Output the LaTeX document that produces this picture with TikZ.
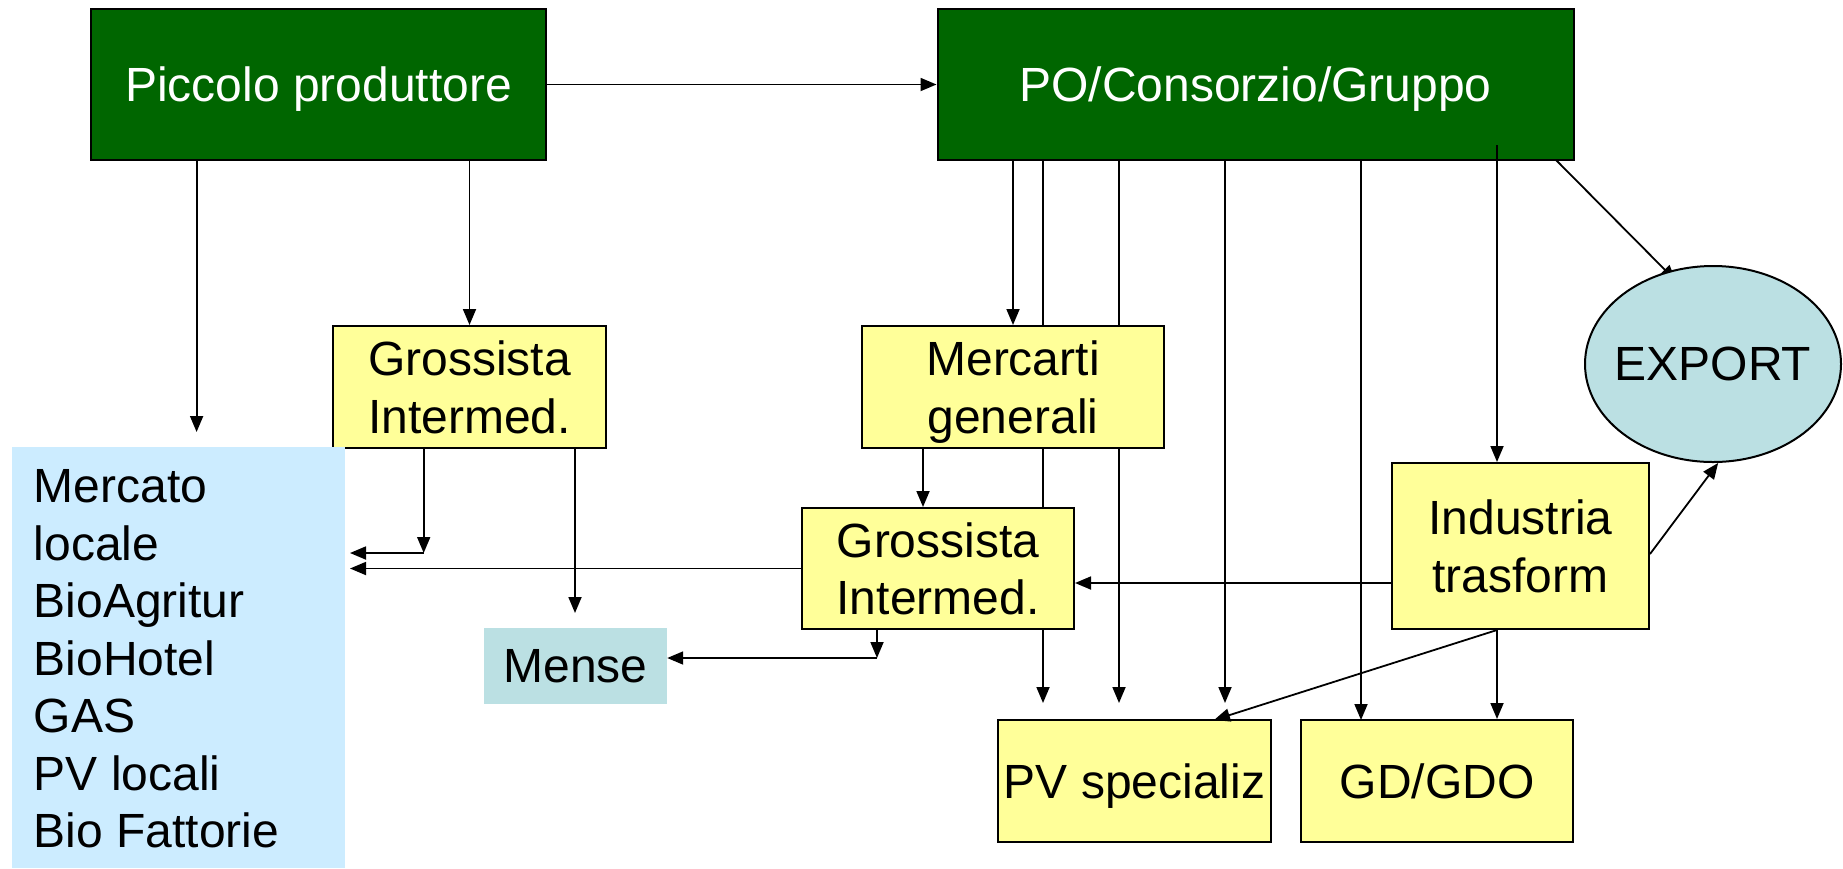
\documentclass[tikz,border=0pt]{standalone}
\usepackage{fontspec}
\setmainfont{Liberation Sans}
\usetikzlibrary{arrows.meta,shapes.geometric,backgrounds}
\definecolor{pgreen}{HTML}{006600}
\definecolor{pyellow}{HTML}{FFFF99}
\definecolor{pteal}{HTML}{BBE0E3}
\definecolor{pblue}{HTML}{CCECFF}
\tikzset{
  every node/.style={font=\fontsize{48}{57.5}\selectfont, inner sep=0pt, text depth=0pt},
  greenbox/.style={draw=black, line width=2pt, fill=pgreen, text=white, align=center},
  yellowbox/.style={draw=black, line width=2pt, fill=pyellow, align=center},
  tealbox/.style={fill=pteal, align=center},
  arr/.style={line width=1.8pt, -{Triangle[length=16pt,width=13pt]}},
}
\begin{document}
\begin{tikzpicture}[x=1pt,y=-1pt]
\useasboundingbox (0,0) rectangle (1843,868);
% nodes
\node[greenbox, minimum width=455pt, minimum height=151pt] (pp) at (318.5,84.5) {Piccolo produttore};
\node[greenbox, minimum width=636pt, minimum height=151pt] (po) at (1255.5,84.5) {PO/Consorzio/Gruppo};
\node[yellowbox, minimum width=273pt, minimum height=122pt] (g1) at (469.5,387) {Grossista\\Intermed.};
\node[yellowbox, minimum width=302pt, minimum height=122pt] (mg) at (1013,387) {Mercarti\\generali};
\node[yellowbox, minimum width=272pt, minimum height=121pt] (g2) at (938,568.5) {Grossista\\Intermed.};
\node[yellowbox, minimum width=257pt, minimum height=166pt] (it) at (1520.5,546) {Industria\\trasform};
\node[ellipse, draw=black, line width=2pt, fill=pteal, minimum width=256pt, minimum height=196pt] (ex) at (1713,364) {};
\node (ext) at (ex.center) {EXPORT};
\node[yellowbox, minimum width=273pt, minimum height=122pt] (pv) at (1134.5,781) {PV specializ};
\node[yellowbox, minimum width=272pt, minimum height=122pt] (gd) at (1437,781) {GD/GDO};
\node[tealbox, minimum width=183pt, minimum height=76pt] (me) at (575.5,666) {Mense};
\node[fill=pblue, minimum width=333pt, minimum height=421pt] (lb) at (178.5,657.5) {};
\node[align=left, anchor=north west] (lbt) at (33.5,469.5)
  {Mercato\\locale\\BioAgritur\\BioHotel\\GAS\\PV locali\\Bio Fattorie};
% free-end coordinates
\coordinate (c1) at (196.6,432);
\coordinate (c5) at (1043,703);
\coordinate (c6) at (1119,703);
\coordinate (c7) at (1225,703);
\coordinate (c8) at (1361,720);
\coordinate (c9) at (1497,145);
\coordinate (c10) at (1556,160);
\coordinate (c10e) at (1676,281);
\coordinate (c12) at (0,583);
\coordinate (c13) at (1214,720);
\coordinate (c15) at (923,0);
\coordinate (c16) at (423.7,553);
\coordinate (c17) at (575,613);
\coordinate (c19) at (877,658);
\coordinate (lbe) at (350,0);
% connectors behind boxes
\begin{scope}[on background layer]
\draw[arr] (c5 |- po.south) -- (c5);
\draw[arr] (c6 |- po.south) -- (c6);
\draw[arr] (c7 |- po.south) -- (c7);
\draw[arr] (c8 |- po.south) -- (c8);
\draw[arr] (c10) -- (c10e);
\end{scope}
% connectors
\draw[arr] (pp.east) -- (po.west);
\draw[arr] (c1 |- pp.south) -- (c1);
\draw[arr] (g1.north |- pp.south) -- (g1.north);
\draw[arr] (mg.north |- po.south) -- (mg.north);
\draw[arr] (c9) -- (c9 |- it.north);
\draw[arr] ([yshift=-8pt]it.east) -- (ex.-87);
\draw[arr] (it.west |- c12) -- (g2.east |- c12);
\draw[arr] (c9 |- it.south) -- (c13);
\draw[arr] (c9 |- it.south) -- (c9 |- gd.north);
\draw[arr] (c15 |- mg.south) -- (c15 |- g2.north);
\draw[arr] (c16 |- g1.south) -- (c16);
\draw[arr] (c16) -- (lbe |- c16);
\draw[arr] (c17 |- g1.south) -- (c17);
\draw[arr] (g2.west) -- (lbe |- g2.west);
\draw[arr] (c19 |- g2.south) -- (c19);
\draw[arr] (c19) -- (c19 -| me.east);
\end{tikzpicture}
\end{document}
